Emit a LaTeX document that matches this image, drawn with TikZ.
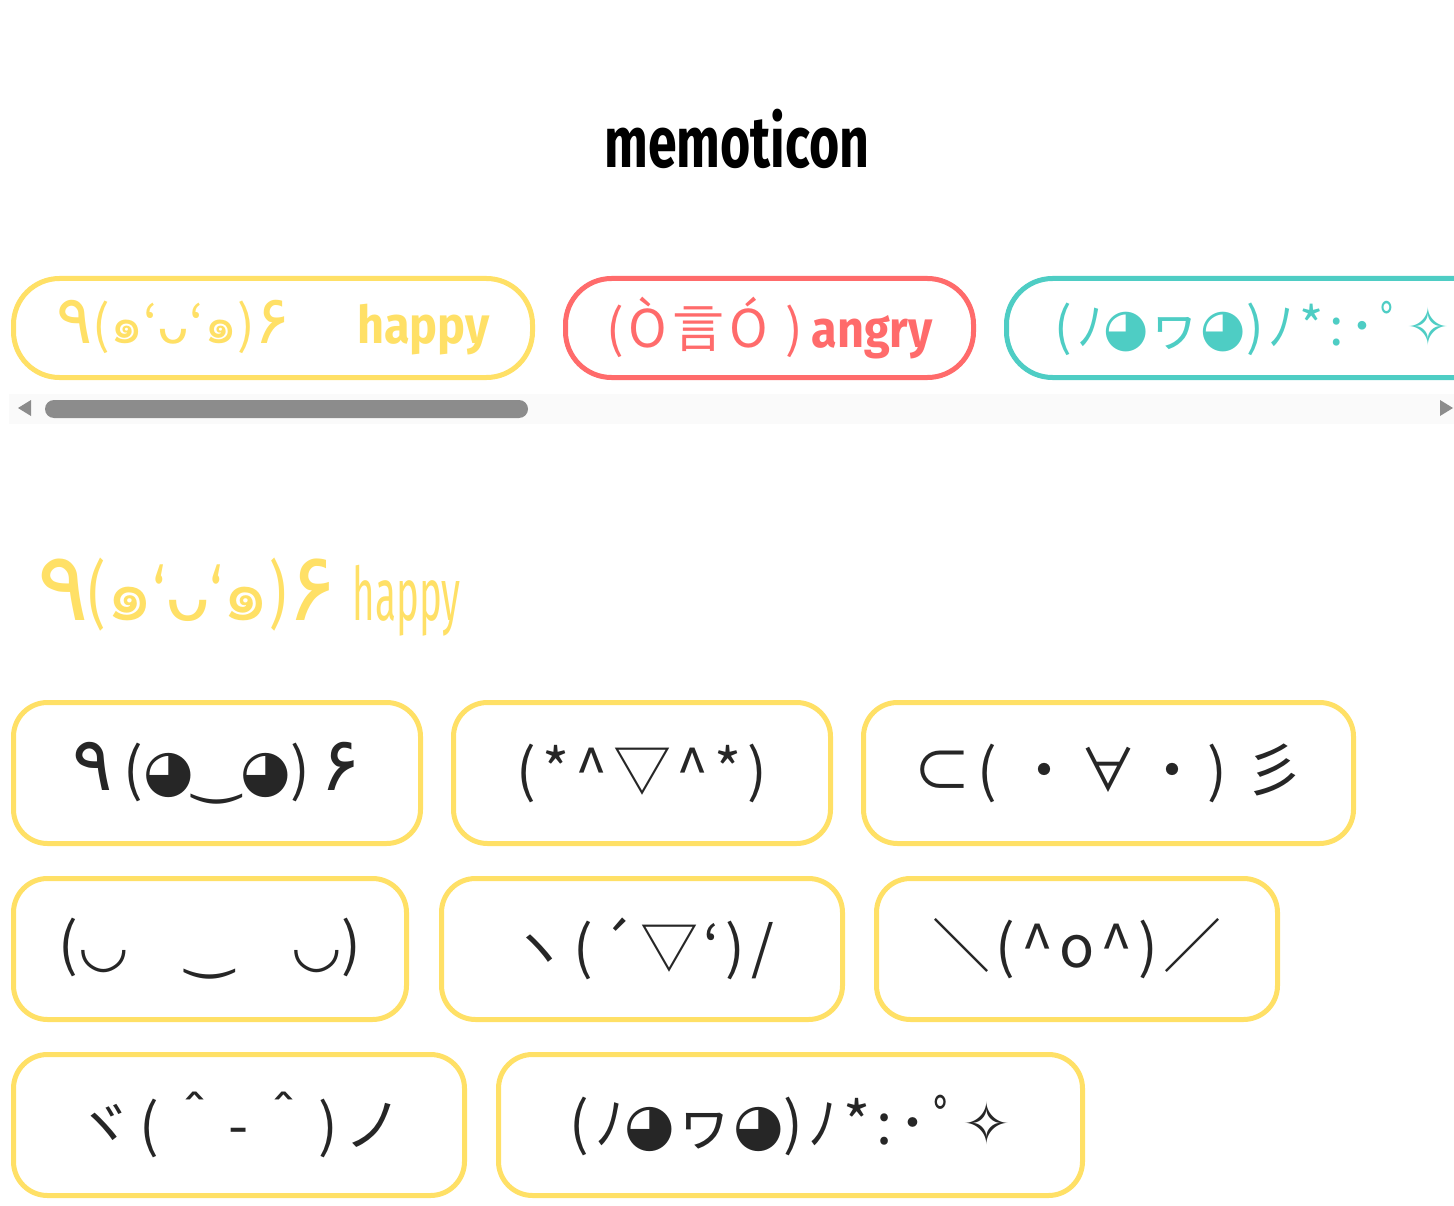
\documentclass[tikz,border=0pt]{standalone}
\usepackage{fontspec}
\setmainfont{Noto Sans CJK JP}
\newfontfamily\djv{DejaVu Sans}
\newfontfamily\thaifont[Script=Thai]{Loma}
\newfontfamily\hand[FakeStretch=0.72]{Fira Sans}
\newfontfamily\slim[FakeStretch=0.52]{Fira Sans}
\newfontfamily\block[FakeStretch=0.9]{Fira Sans}
\usetikzlibrary{positioning}

\definecolor{sun}{HTML}{FFE066}
\definecolor{coral}{HTML}{FF6B6B}
\definecolor{mint}{HTML}{4ECDC4}
\definecolor{ink}{HTML}{262626}
\definecolor{thumb}{HTML}{8C8C8C}
\definecolor{track}{HTML}{FAFAFA}

\newcommand\ar[1]{{\djv #1}}
\newcommand\bigdigit[1]{\scalebox{1.3}{\ar{#1}}}
\newcommand\tha[1]{{\thaifont #1}}
\newcommand\caret{\textasciicircum}
\newcommand\happyface{\bigdigit{٩}(\tha{๑}‘\ar{ᴗ}‘\tha{๑})\bigdigit{۶}}
\newcommand\sparkle{(ﾉ\ar{◕}ヮ\ar{◕})ﾉ*:･ﾟ\ar{✧}}
\newcommand\cardfont{\fontsize{58}{62}\selectfont\addfontfeature{LetterSpace=10}}
\newcommand\tabfont{\fontsize{52}{56}\selectfont\addfontfeature{LetterSpace=10}}

\begin{document}
\begin{tikzpicture}[x=1pt,y=-1pt,
    tab/.style={draw=#1,text=#1,line width=5pt,rounded corners=46pt,
        minimum height=99pt,inner sep=0pt,font=\tabfont},
    card/.style={draw=sun,text=ink,line width=5pt,rounded corners=34pt,
        minimum height=141pt,inner sep=0pt,font=\cardfont}]
\useasboundingbox (0,0) rectangle (1454,1206);
\clip (0,0) rectangle (1454,1206);

\node[anchor=base,font=\hand\bfseries\fontsize{72}{80}\selectfont] (title) at (737,168) {memoticon};

% mood tabs
\node[tab=sun,minimum width=519pt,anchor=north west] (happytab) at (11,276)
    {\happyface\hspace{66pt}{\block\bfseries happy}};
\node[tab=coral,minimum width=408pt,right=28pt of happytab] (angrytab)
    {(Ò言Ó )\,{\block\bfseries angry}};
\node[tab=mint,text width=600pt,inner xsep=48pt,align=left,
    right=28pt of angrytab] (sparktab) {\sparkle};

% scroll bar
\fill[track] (9,394) rectangle (1454,424);
\fill[thumb,rounded corners=9pt] (45,400) rectangle (528,418);
\fill[thumb] (31,400) -- (31,416) -- (18,408) -- cycle;
\fill[thumb] (1440,400) -- (1440,416) -- (1453,408) -- cycle;

\node[anchor=west,text=sun,inner sep=0pt,font=\hand\fontsize{74}{80}\selectfont]
    (mood) at (37,597) {\happyface\ {\slim happy}};

% cards
\node[card,minimum width=407pt,anchor=north west] (c1) at (11,700)
    {\bigdigit{٩}\hspace{10pt}(\ar{◕‿◕})\hspace{10pt}\bigdigit{۶}};
\node[card,minimum width=377pt,right=28pt of c1] (c2) {(*\caret▽\caret*)};
\node[card,minimum width=490pt,right=28pt of c2] (c3) {⊂( ・∀・) 彡};
\node[card,minimum width=393pt,below=30pt of c1.south west,anchor=north west] (c4)
    {(\ar{◡}　\ar{‿}　\ar{◡})};
\node[card,minimum width=401pt,right=30pt of c4] (c5) {ヽ(´▽`)/};
\node[card,minimum width=401pt,right=29pt of c5] (c6) {＼(\caret o\caret)／};
\node[card,minimum width=451pt,below=30pt of c4.south west,anchor=north west] (c7)
    {ヾ(＾-＾)ノ};
\node[card,minimum width=584pt,right=29pt of c7] (c8) {\sparkle};
\end{tikzpicture}
\end{document}
